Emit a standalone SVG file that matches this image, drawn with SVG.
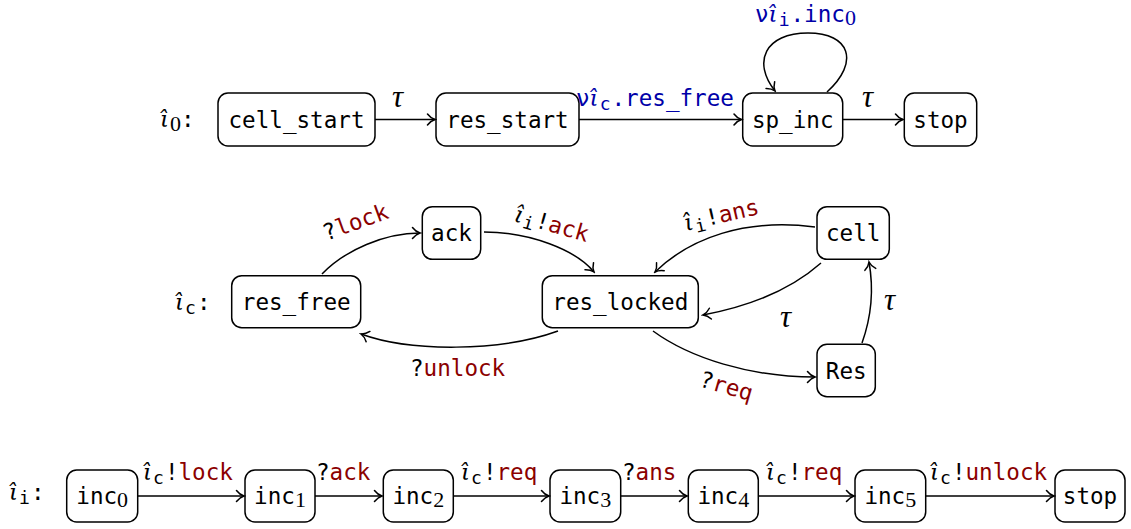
<svg xmlns="http://www.w3.org/2000/svg" width="1131" height="529" viewBox="0 0 1131 529">
<style>
.box { fill: #fff; stroke: #000; stroke-width: 1.5; }
.t { font-family: "DejaVu Sans Mono", monospace; font-size: 22.6px; fill: #000; }
.mi { font-family: "DejaVu Serif", "Liberation Serif", serif; font-style: italic; font-size: 23px; }
.tau { font-family: "Liberation Serif", "DejaVu Serif", serif; font-style: italic; font-size: 31px; }
.sd { font-family: "Liberation Serif", "DejaVu Serif", serif; font-size: 22px; }
.sm { font-family: "DejaVu Sans Mono", monospace; font-size: 18px; }
.red { fill: #8b0000; }
.blue { fill: #0000a8; }
.e { fill: none; stroke: #000; stroke-width: 1.5; marker-end: url(#ah); }
</style>
<defs>
<marker id="ah" viewBox="-10 -7 12 14" refX="0" refY="0" markerWidth="12" markerHeight="14" markerUnits="userSpaceOnUse" orient="auto">
<path d="M-7.5,-5.5 C-5,-2.2 -2,-0.6 0,0 C-2,0.6 -5,2.2 -7.5,5.5" fill="none" stroke="#000" stroke-width="1.5" stroke-linecap="round"/>
</marker>
</defs>

<!-- row labels -->
<text class="t" x="160" y="127"><tspan class="mi">ι̂</tspan><tspan class="sd" dx="1" dy="4">0</tspan><tspan dy="-4">:</tspan></text>
<text class="t" x="175" y="310"><tspan class="mi">ι̂</tspan><tspan class="sm" dx="1" dy="4">c</tspan><tspan dy="-4" dx="1">:</tspan></text>
<text class="t" x="9" y="500"><tspan class="mi">ι̂</tspan><tspan class="sm" dx="1" dy="4">i</tspan><tspan dy="-4" dx="1">:</tspan></text>

<!-- row 1 nodes -->
<g id="cell_start"><rect class="box" x="218" y="93" width="157" height="53" rx="10"/><text class="t" x="296.5" y="127.5" text-anchor="middle">cell_start</text></g>
<g id="res_start"><rect class="box" x="436" y="93" width="143" height="53" rx="10"/><text class="t" x="507.5" y="127.5" text-anchor="middle">res_start</text></g>
<g id="sp_inc"><rect class="box" x="742.7" y="93" width="100" height="53" rx="10"/><text class="t" x="792.7" y="127.5" text-anchor="middle">sp_inc</text></g>
<g id="stop0"><rect class="box" x="904.3" y="93" width="72.4" height="53" rx="10"/><text class="t" x="940.5" y="127.5" text-anchor="middle">stop</text></g>

<!-- row 2 nodes -->
<g id="res_free"><rect class="box" x="231.7" y="275.7" width="129" height="52" rx="10"/><text class="t" x="296.2" y="310" text-anchor="middle">res_free</text></g>
<g id="ack"><rect class="box" x="422.3" y="206.7" width="58.4" height="52.6" rx="10"/><text class="t" x="451.5" y="241" text-anchor="middle">ack</text></g>
<g id="res_locked"><rect class="box" x="542.3" y="275.7" width="156" height="52" rx="10"/><text class="t" x="620.3" y="310" text-anchor="middle">res_locked</text></g>
<g id="cell"><rect class="box" x="817" y="206.7" width="72.3" height="52.6" rx="10"/><text class="t" x="853.2" y="241" text-anchor="middle">cell</text></g>
<g id="Res"><rect class="box" x="817" y="344.3" width="58.3" height="52.4" rx="10"/><text class="t" x="846.2" y="378.5" text-anchor="middle">Res</text></g>

<!-- row 3 nodes -->
<g id="inc0"><rect class="box" x="66.7" y="470" width="71" height="52" rx="10"/><text class="t" x="102.2" y="504" text-anchor="middle">inc<tspan class="sd" dy="3">0</tspan></text></g>
<g id="inc1"><rect class="box" x="245" y="470" width="70" height="52" rx="10"/><text class="t" x="280" y="504" text-anchor="middle">inc<tspan class="sd" dy="3">1</tspan></text></g>
<g id="inc2"><rect class="box" x="383.3" y="470" width="70" height="52" rx="10"/><text class="t" x="418.3" y="504" text-anchor="middle">inc<tspan class="sd" dy="3">2</tspan></text></g>
<g id="inc3"><rect class="box" x="550" y="470" width="70.7" height="52" rx="10"/><text class="t" x="585.3" y="504" text-anchor="middle">inc<tspan class="sd" dy="3">3</tspan></text></g>
<g id="inc4"><rect class="box" x="688.3" y="470" width="70" height="52" rx="10"/><text class="t" x="723.3" y="504" text-anchor="middle">inc<tspan class="sd" dy="3">4</tspan></text></g>
<g id="inc5"><rect class="box" x="855" y="470" width="70.7" height="52" rx="10"/><text class="t" x="890.3" y="504" text-anchor="middle">inc<tspan class="sd" dy="3">5</tspan></text></g>
<g id="stop1"><rect class="box" x="1055" y="470" width="70" height="52" rx="10"/><text class="t" x="1090" y="504" text-anchor="middle">stop</text></g>

<!-- connectors -->
<g id="connectors">
<path class="e" d="M375,119.5 H435"/>
<path class="e" d="M579,119.5 H741.5"/>
<path class="e" d="M842.7,119.5 H903"/>
<path class="e" d="M827,92 C860,62 850,33 808,33 C765,33 752,62 775,91"/>

<path class="e" d="M322,274 C345,250 385,233 420,233"/>
<path class="e" d="M484,232 C530,232 576,250 594,272"/>
<path class="e" d="M558,331 C500,352 410,352 361,334"/>
<path class="e" d="M815,227 C745,218 690,238 655,272"/>
<path class="e" d="M821,263 Q778,301 703,315"/>
<path class="e" d="M653,331 C690,358 750,377 815,377"/>
<path class="e" d="M862,343 C872,315 874,290 869,262"/>

<path class="e" d="M137.7,496 H244"/>
<path class="e" d="M315,496 H382"/>
<path class="e" d="M453.3,496 H549"/>
<path class="e" d="M620.7,496 H687"/>
<path class="e" d="M758.3,496 H854"/>
<path class="e" d="M925.7,496 H1054"/>
</g>

<!-- edge labels -->
<g id="labels">
<text class="t tau" x="392" y="106.5">τ</text>
<text class="t tau" x="862" y="106.5">τ</text>
<text class="t blue" x="576" y="106">ν<tspan class="mi">ι̂</tspan><tspan class="sm" dx="1" dy="4">c</tspan><tspan dy="-4" dx="1">.res_free</tspan></text>
<text class="t blue" x="755" y="22">ν<tspan class="mi">ι̂</tspan><tspan class="sm" dx="1" dy="4">i</tspan><tspan dy="-4" dx="1">.inc</tspan><tspan class="sd" dy="3">0</tspan></text>

<text class="t" transform="translate(326,241) rotate(-20)">?<tspan class="red">lock</tspan></text>
<text class="t" transform="translate(513,221) rotate(16)"><tspan class="mi">ι̂</tspan><tspan class="sm" dx="1" dy="4">i</tspan><tspan dy="-4" dx="1">!</tspan><tspan class="red">ack</tspan></text>
<text class="t" x="410" y="376">?<tspan class="red">unlock</tspan></text>
<text class="t" transform="translate(686,231) rotate(-13)"><tspan class="mi">ι̂</tspan><tspan class="sm" dx="1" dy="4">i</tspan><tspan dy="-4" dx="1">!</tspan><tspan class="red">ans</tspan></text>
<text class="t tau" x="780" y="327">τ</text>
<text class="t tau" x="884" y="310">τ</text>
<text class="t" transform="translate(698,386) rotate(16)">?<tspan class="red">req</tspan></text>

<text class="t" x="143" y="480"><tspan class="mi">ι̂</tspan><tspan class="sm" dx="1" dy="4">c</tspan><tspan dy="-4" dx="1">!</tspan><tspan class="red">lock</tspan></text>
<text class="t" x="316" y="480">?<tspan class="red">ack</tspan></text>
<text class="t" x="461" y="480"><tspan class="mi">ι̂</tspan><tspan class="sm" dx="1" dy="4">c</tspan><tspan dy="-4" dx="1">!</tspan><tspan class="red">req</tspan></text>
<text class="t" x="622" y="480">?<tspan class="red">ans</tspan></text>
<text class="t" x="766" y="480"><tspan class="mi">ι̂</tspan><tspan class="sm" dx="1" dy="4">c</tspan><tspan dy="-4" dx="1">!</tspan><tspan class="red">req</tspan></text>
<text class="t" x="930" y="480"><tspan class="mi">ι̂</tspan><tspan class="sm" dx="1" dy="4">c</tspan><tspan dy="-4" dx="1">!</tspan><tspan class="red">unlock</tspan></text>
</g>
</svg>
